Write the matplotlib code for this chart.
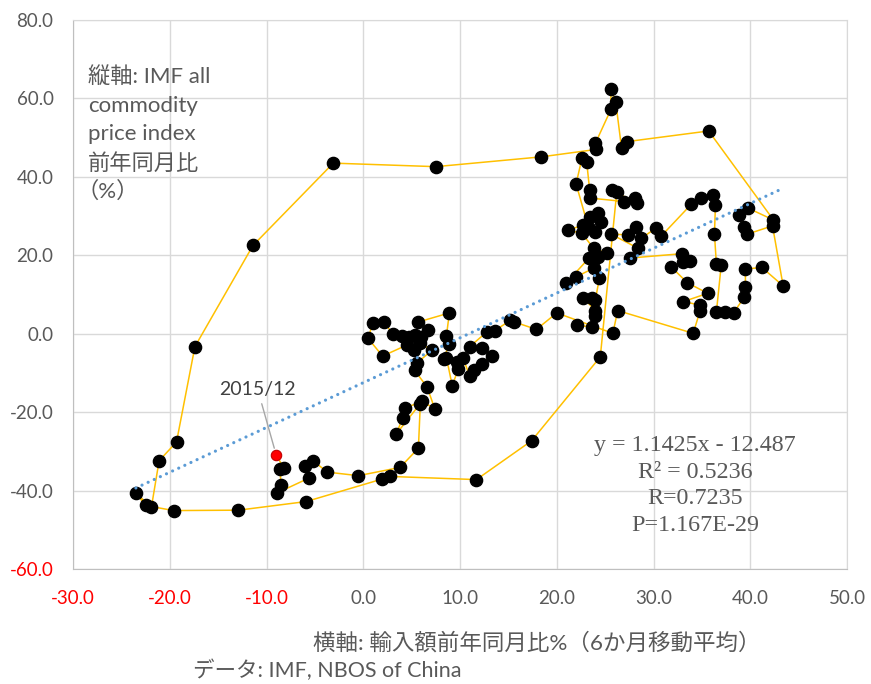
import numpy as np
import matplotlib
matplotlib.use("Agg")
import matplotlib.pyplot as plt
from matplotlib.ticker import FormatStrFormatter

plt.rcParams['font.family'] = ['Lato', 'Noto Sans CJK JP', 'DejaVu Sans']

# 輸入額前年同月比% (6か月移動平均), time ordered
import_growth = [
    22.1, 23.6, 24.0, 24.0, 22.7, 23.6, 24.0, 24.4, 23.8, 22.0, 21.0, 23.3, 24.3, 25.2, 23.8,
    22.6, 21.2, 22.7, 23.4, 24.3, 24.6, 24.0, 23.3, 22.0, 22.6, 23.1, 23.4, 23.4, 27.0, 28.1,
    28.3, 25.7, 26.2,
    24.5, 17.4, 11.7, 2.8, 1.9, -5.9, -12.9, -19.6, -22.5, -23.5, -21.9, -21.1, -19.3, -17.4,
    -11.4, -3.1, 7.5, 18.4, 24.1, 24.0, 25.6, 25.6, 26.1, 26.7, 27.3, 35.7,
    42.4, 39.8, 38.8, 39.4, 39.7, 42.3, 43.4, 41.2, 39.5, 39.5, 39.4, 38.3, 37.4, 36.5, 37.0,
    36.5, 36.3, 36.4, 36.2, 34.9, 33.9, 30.8, 30.3, 28.7, 28.2, 27.4, 25.6, 28.4, 27.6, 32.9,
    33.8, 33.1, 31.8, 33.5, 35.6, 33.1, 34.8, 34.8, 34.1,
    26.3, 25.8, 20.0, 17.9, 15.6, 15.2, 13.6, 12.8, 11.0, 12.3, 13.3, 12.3, 11.4, 11.0, 10.3,
    9.7, 9.8, 9.2, 8.6, 8.3, 8.9, 8.6, 8.9, 5.7, 6.7, 6.0, 5.3, 4.7, 4.0, 3.1, 2.1, 1.0, 0.5,
    2.0, 4.5, 5.2, 5.9, 7.1, 5.6, 5.3, 6.6, 7.4, 6.1, 4.3, 4.1, 3.4, 5.9, 5.7, 3.8, -0.5, -3.7,
    -5.2, -6.0, -5.6, -8.9, -8.5, -8.6, -8.2, -9.0,
]
# IMF all commodity price index 前年同月比(%)
commodity_growth = [
    2.1, 1.8, 4.6, 5.9, 9.2, 9.2, 8.7, 14.1, 16.7, 14.5, 13.0, 19.2, 19.6, 20.5, 21.8,
    25.6, 26.4, 27.7, 29.8, 30.7, 28.6, 26.0, 26.9, 38.2, 44.7, 43.7, 36.6, 34.6, 33.7, 34.5,
    33.3, 36.6, 36.1,
    -5.9, -27.3, -37.2, -36.4, -37.1, -42.8, -45.0, -45.1, -43.8, -40.6, -44.3, -32.4, -27.6, -3.3,
    22.5, 43.5, 42.6, 45.1, 47.0, 48.6, 57.2, 62.3, 59.0, 47.3, 49.0, 51.7,
    29.0, 32.0, 30.3, 27.1, 25.4, 27.5, 12.2, 16.9, 16.5, 12.0, 9.4, 5.4, 5.5, 5.5, 17.5,
    17.8, 25.4, 32.7, 35.3, 34.5, 33.0, 24.9, 27.0, 24.3, 27.3, 25.2, 25.4, 21.8, 19.3, 20.4,
    18.5, 18.3, 17.1, 13.0, 10.3, 8.2, 7.3, 5.7, 0.1,
    5.9, 0.1, 5.3, 1.1, 3.0, 3.4, 0.8, 0.5, -3.3, -3.6, -5.6, -7.7, -9.3, -10.8, -6.1,
    -7.1, -9.1, -13.3, -6.1, -6.5, -2.6, -0.5, 5.3, 3.0, 0.9, -0.8, -0.3, -0.8, -0.6, -0.2, 3.1, 2.8, -1.2,
    -5.7, -2.9, -4.2, -2.4, -4.2, -7.4, -9.3, -13.6, -19.2, -17.2, -19.0, -21.4, -25.6, -17.8, -29.2, -34.1, -36.2, -35.3,
    -32.4, -33.7, -36.8, -40.6, -38.7, -34.5, -34.3, -30.9,
]
highlight_label = "2015/12"

trend_slope = 1.1425
trend_intercept = -12.487
stats_lines = ["y = 1.1425x - 12.487", "R² = 0.5236", "R=0.7235", "P=1.167E-29"]

x_ticks = list(range(-30, 51, 10))
y_ticks = list(range(-60, 81, 20))

x = np.array(import_growth)
y = np.array(commodity_growth)

W, H = 871, 684
fig = plt.figure(figsize=(W / 100, H / 100), dpi=100)
ax = fig.add_axes([73 / W, 115 / H, 774 / W, 549 / H])

ax.set_xlim(-30, 50)
ax.set_ylim(-60, 80)
ax.set_xticks(x_ticks)
ax.set_yticks(y_ticks)
ax.xaxis.set_major_formatter(FormatStrFormatter('%.1f'))
ax.yaxis.set_major_formatter(FormatStrFormatter('%.1f'))
ax.tick_params(axis='both', length=0, labelsize=13.5, colors='#595959')
ax.tick_params(axis='x', pad=15)
ax.tick_params(axis='y', pad=14)
for lab, v in zip(ax.get_xticklabels(), x_ticks):
    lab.set_color('#FF0000' if v < 0 else '#595959')
for lab, v in zip(ax.get_yticklabels(), y_ticks):
    lab.set_color('#FF0000' if v == -60 else '#595959')

ax.grid(True, color='#D9D9D9', lw=1.0)
ax.set_axisbelow(True)
for s in ['top', 'right']:
    ax.spines[s].set_color('#D9D9D9')
for s in ['left', 'bottom']:
    ax.spines[s].set_color('#BFBFBF')

ax.plot(x, y, color='#FFC000', lw=1.1, zorder=2)
ax.plot(x[:-1], y[:-1], 'o', ms=8.8, color='black', zorder=3)
ax.plot(x[-1:], y[-1:], 'o', ms=7.5, mfc='#FF0000', mec='#C00000', mew=0.8, zorder=6)

xs = np.array([x.min(), x.max()])
ax.plot(xs, trend_slope * xs + trend_intercept, color='#5B9BD5', lw=2.3,
        linestyle=(0, (0.01, 2.1)), dash_capstyle='round', zorder=5)

ax.annotate(highlight_label, xy=(x[-1], y[-1]), xytext=(-10.9, -14.3),
            textcoords='data', ha='center', va='center', fontsize=14, color='#404040',
            arrowprops=dict(arrowstyle='-', color='#A6A6A6', lw=1.0, shrinkA=2, shrinkB=5),
            zorder=7)

stat_y = [-28.4, -35.3, -41.9, -48.8]
for t, yy in zip(stats_lines, stat_y):
    ax.text(34.3, yy, t, ha='center', va='center', fontsize=17.3,
            family='Liberation Serif', color='#595959', zorder=7)

ylab_lines = ["縦軸: IMF all", "commodity", "price index", "前年同月比", "（%）"]
ylab_base = [63.9, 56.5, 49.4, 41.7, 34.6]
ylab_x = [-28.45, -28.45, -28.45, -28.45, -29.6]
for t, xx, yy in zip(ylab_lines, ylab_x, ylab_base):
    ax.text(xx, yy, t, ha='left', va='baseline', fontsize=16, color='#595959', zorder=7)

fig.text(313 / W, 1 - 650 / H, "横軸: 輸入額前年同月比%（6か月移動平均）", ha='left', va='baseline',
         fontsize=16.2, color='#595959')
fig.text(193 / W, 1 - 677 / H, "データ: IMF, NBOS of China", ha='left', va='baseline',
         fontsize=15.5, color='#595959')

fig.savefig('out.png', dpi=100)
